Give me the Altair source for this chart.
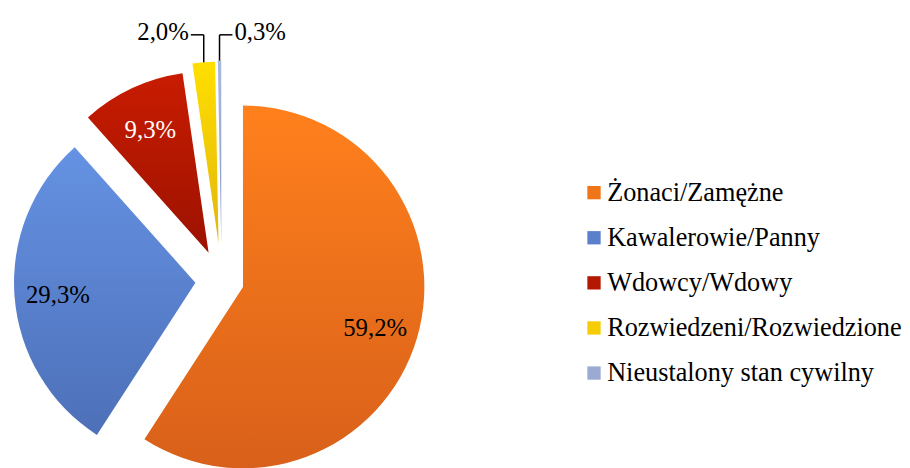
import altair as alt
import pandas as pd

# ---- data ----
categories = ["Żonaci/Zamężne", "Kawalerowie/Panny", "Wdowcy/Wdowy",
              "Rozwiedzeni/Rozwiedzione", "Nieustalony stan cywilny"]
values = [59.2, 29.3, 9.3, 2.0, 0.3]
labels = ["59,2%", "29,3%", "9,3%", "2,0%", "0,3%"]

# ---- style ----
CX, CY = 215.5, 273.0      # pie centre (px, chart coords)
R = 183
explode = [22.5, 26.5, 31, 38, 39]
grad_top = ["#FF801C", "#6592E3", "#C81C00", "#FFDF00", "#AABADF"]
grad_bot = ["#D8601A", "#4D70B8", "#9C1200", "#E2B60C", "#8797C2"]
legend_cols = ["#F07418", "#5A80CC", "#B41800", "#F5CC05", "#9AAAD2"]
label_col = ["black", "black", "white", "black", "black"]
inside = [True, True, True, False, False]
FONT = "Liberation Serif"
FS = 25
LFS = 26.5
LABEL_Y = 25   # leader line top (chart coords)

df = pd.DataFrame({"category": categories, "value": values,
                   "label": labels, "order": list(range(len(values)))})

base = alt.Chart(df).transform_joinaggregate(
    total="sum(value)"
).transform_window(
    cum="sum(value)", sort=[alt.SortField("order")], frame=[None, 0]
).transform_calculate(
    t1="datum.cum / datum.total * 2 * PI",
    t0="(datum.cum - datum.value) / datum.total * 2 * PI",
).transform_calculate(
    mid="(datum.t0 + datum.t1) / 2"
)

layers = []

# legend layer (zero-size arcs)
layers.append(
    base.mark_arc(radius=0).encode(
        theta=alt.Theta("t0:Q", scale=None),
        theta2="t1:Q",
        color=alt.Color("category:N",
                        scale=alt.Scale(domain=categories, range=legend_cols),
                        sort=categories,
                        legend=alt.Legend(title=None, orient="none",
                                          legendX=578, legendY=171,
                                          symbolType="square", symbolSize=180,
                                          symbolStrokeWidth=0,
                                          labelFont=FONT, labelFontSize=LFS,
                                          labelColor="black", labelOffset=0,
                                          rowPadding=18.5, padding=0,
                                          labelLimit=400)),
    )
)

for i, cat in enumerate(categories):
    d = explode[i]
    sl = base.transform_filter(alt.datum.category == cat).transform_calculate(
        cx=f"{CX} + {d} * sin(datum.mid)",
        cy=f"{CY} - {d} * cos(datum.mid)",
    )
    grad = alt.Gradient(
        gradient="linear",
        stops=[alt.GradientStop(offset=0, color=grad_top[i]),
               alt.GradientStop(offset=1, color=grad_bot[i])],
        x1=0, x2=0, y1=0, y2=1,
    )
    layers.append(
        sl.mark_arc(radius=R, fill=grad).encode(
            theta=alt.Theta("t0:Q", scale=None),
            theta2="t1:Q",
            x=alt.X("cx:Q", scale=None),
            y=alt.Y("cy:Q", scale=None),
        )
    )
    if inside[i]:
        txt = sl.transform_calculate(
            lx=f"datum.cx + {0.76 * R} * sin(datum.mid)",
            ly=f"datum.cy - {0.76 * R} * cos(datum.mid)",
        )
        layers.append(
            txt.mark_text(font=FONT, fontSize=FS, color=label_col[i],
                          baseline="middle", align="center", dy=2).encode(
                x=alt.X("lx:Q", scale=None),
                y=alt.Y("ly:Q", scale=None),
                text="label:N",
            )
        )
    else:
        side = -1 if i == 3 else 1
        ld = sl.transform_calculate(
            ox=f"datum.cx + {R} * sin(datum.mid)",
            oy=f"datum.cy - {R} * cos(datum.mid)",
        ).transform_calculate(
            hx=f"datum.ox + {side * 13}",
            ty=f"{LABEL_Y}",
            tx=f"datum.ox + {side * 15}",
        )
        layers.append(
            ld.mark_rule(color="black", strokeWidth=1.5).encode(
                x=alt.X("ox:Q", scale=None), y=alt.Y("oy:Q", scale=None),
                x2="ox:Q", y2="ty:Q",
            )
        )
        layers.append(
            ld.mark_rule(color="black", strokeWidth=1.5).encode(
                x=alt.X("ox:Q", scale=None), y=alt.Y("ty:Q", scale=None),
                x2="hx:Q", y2="ty:Q",
            )
        )
        layers.append(
            ld.mark_text(font=FONT, fontSize=FS, color="black",
                         baseline="middle",
                         align="right" if side < 0 else "left",
                         dy=-3).encode(
                x=alt.X("tx:Q", scale=None),
                y=alt.Y("ty:Q", scale=None),
                text="label:N",
            )
        )

chart = alt.layer(*layers).properties(
    width=902, height=460, padding=0, background="white",
    autosize=alt.AutoSizeParams(type="none"),
).configure_view(stroke=None)

chart.save("out.html", embed_options={"renderer": "svg", "actions": False})
